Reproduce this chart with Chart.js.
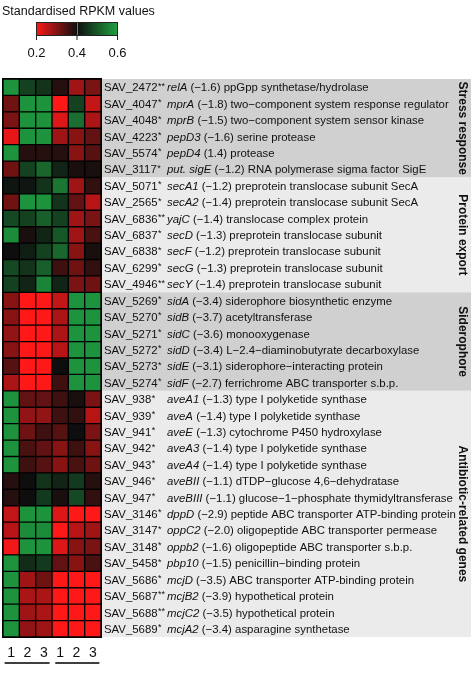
<!DOCTYPE html>
<html>
<head>
<meta charset="utf-8">
<script src="https://cdn.jsdelivr.net/npm/chart.js@4/dist/chart.umd.min.js"></script>
<style>
  html, body { margin: 0; padding: 0; background: #fff; }
  #wrap { width: 475px; height: 673px; position: relative; }
</style>
</head>
<body>
<div id="wrap"><canvas id="heat" width="475" height="673"></canvas></div>
<script>
// gene rows, top to bottom
const geneIds = ["SAV_2472**", "SAV_4047*", "SAV_4048*", "SAV_4223*", "SAV_5574*", "SAV_3117*",
  "SAV_5071*", "SAV_2565*", "SAV_6836**", "SAV_6837*", "SAV_6838*", "SAV_6299*", "SAV_4946**",
  "SAV_5269*", "SAV_5270*", "SAV_5271*", "SAV_5272*", "SAV_5273*", "SAV_5274*",
  "SAV_938*", "SAV_939*", "SAV_941*", "SAV_942*", "SAV_943*", "SAV_946*", "SAV_947*",
  "SAV_3146*", "SAV_3147*", "SAV_3148*", "SAV_5458*", "SAV_5686*", "SAV_5687**", "SAV_5688**", "SAV_5689*"];
const geneNames = ["relA", "mprA", "mprB", "pepD3", "pepD4", "put. sigE",
  "secA1", "secA2", "yajC", "secD", "secF", "secG", "secY",
  "sidA", "sidB", "sidC", "sidD", "sidE", "sidF",
  "aveA1", "aveA", "aveE", "aveA3", "aveA4", "aveBII", "aveBIII",
  "dppD", "oppC2", "oppb2", "pbp10", "mcjD", "mcjB2", "mcjC2", "mcjA2"];
const foldChanges = ["−1.6", "−1.8", "−1.5", "−1.6", "1.4", "−1.2",
  "−1.2", "−1.4", "−1.4", "−1.3", "−1.2", "−1.3", "−1.4",
  "−3.4", "−3.7", "−3.6", "−3.4", "−3.1", "−2.7",
  "−1.3", "−1.4", "−1.3", "−1.4", "−1.4", "−1.1", "−1.1",
  "−2.9", "−2.0", "−1.6", "−1.5", "−3.5", "−3.9", "−3.5", "−3.4"];
const descriptions = ["ppGpp synthetase/hydrolase", "two−component system response regulator",
  "two−component system sensor kinase", "serine protease", "protease", "RNA polymerase sigma factor SigE",
  "preprotein translocase subunit SecA", "preprotein translocase subunit SecA", "translocase complex protein",
  "preprotein translocase subunit", "preprotein translocase subunit", "preprotein translocase subunit",
  "preprotein translocase subunit",
  "siderophore biosynthetic enzyme", "acetyltransferase", "monooxygenase",
  "L−2.4−diaminobutyrate decarboxylase", "siderophore−interacting protein", "ferrichrome ABC transporter s.b.p.",
  "type I polyketide synthase", "type I polyketide synthase", "cytochrome P450 hydroxylase",
  "type I polyketide synthase", "type I polyketide synthase", "dTDP−glucose 4,6−dehydratase",
  "glucose−1−phosphate thymidyltransferase",
  "peptide ABC transporter ATP-binding protein", "oligopeptide ABC transporter permease",
  "oligopeptide ABC transporter s.b.p.", "penicillin−binding protein", "ABC transporter ATP-binding protein",
  "hypothetical protein", "hypothetical protein", "asparagine synthetase"];

// standardised RPKM, one row per gene, columns 1 2 3 | 1 2 3
const rpkm = [
  [0.58, 0.47, 0.45, 0.38, 0.28, 0.31],
  [0.32, 0.58, 0.58, 0.20, 0.47, 0.25],
  [0.31, 0.58, 0.58, 0.23, 0.53, 0.27],
  [0.22, 0.58, 0.58, 0.28, 0.30, 0.33],
  [0.58, 0.38, 0.38, 0.38, 0.30, 0.34],
  [0.32, 0.47, 0.52, 0.43, 0.39, 0.39],
  [0.41, 0.41, 0.45, 0.54, 0.28, 0.37],
  [0.32, 0.58, 0.58, 0.45, 0.33, 0.26],
  [0.48, 0.47, 0.51, 0.47, 0.28, 0.31],
  [0.57, 0.39, 0.43, 0.50, 0.28, 0.35],
  [0.40, 0.42, 0.47, 0.52, 0.30, 0.39],
  [0.48, 0.45, 0.51, 0.36, 0.32, 0.37],
  [0.47, 0.43, 0.56, 0.43, 0.31, 0.32],
  [0.30, 0.20, 0.20, 0.25, 0.58, 0.58],
  [0.30, 0.20, 0.20, 0.27, 0.58, 0.58],
  [0.29, 0.20, 0.20, 0.27, 0.58, 0.58],
  [0.30, 0.20, 0.20, 0.26, 0.58, 0.58],
  [0.34, 0.20, 0.20, 0.40, 0.58, 0.58],
  [0.27, 0.20, 0.20, 0.36, 0.58, 0.58],
  [0.58, 0.33, 0.33, 0.36, 0.39, 0.31],
  [0.58, 0.29, 0.29, 0.36, 0.37, 0.26],
  [0.58, 0.32, 0.36, 0.34, 0.40, 0.31],
  [0.58, 0.35, 0.33, 0.30, 0.36, 0.30],
  [0.58, 0.36, 0.34, 0.30, 0.35, 0.32],
  [0.38, 0.40, 0.45, 0.43, 0.46, 0.38],
  [0.38, 0.40, 0.46, 0.39, 0.48, 0.37],
  [0.25, 0.58, 0.58, 0.23, 0.20, 0.20],
  [0.26, 0.57, 0.57, 0.20, 0.26, 0.28],
  [0.21, 0.58, 0.58, 0.23, 0.30, 0.31],
  [0.58, 0.44, 0.46, 0.33, 0.30, 0.35],
  [0.58, 0.28, 0.32, 0.20, 0.20, 0.20],
  [0.58, 0.27, 0.27, 0.20, 0.20, 0.20],
  [0.58, 0.28, 0.27, 0.20, 0.20, 0.20],
  [0.58, 0.29, 0.28, 0.20, 0.20, 0.20]
];
const columnLabels = ["1", "2", "3", "1", "2", "3"];
const groupNames = ["Stress response", "Protein export", "Siderophore", "Antibiotic-related genes"];
const groupSizes = [6, 7, 6, 15];
const scaleTicks = [0.2, 0.4, 0.6];

const RED = [255, 24, 24], BLACK = [14, 14, 14], GREEN = [32, 162, 66];

function colorFor(v) {
  let t, c;
  if (v < 0.4) { t = Math.min(1, (0.4 - v) / 0.2); c = RED; }
  else { t = Math.min(1, (v - 0.4) / 0.2); c = GREEN; }
  const r = Math.round(BLACK[0] + (c[0] - BLACK[0]) * t);
  const g = Math.round(BLACK[1] + (c[1] - BLACK[1]) * t);
  const b = Math.round(BLACK[2] + (c[2] - BLACK[2]) * t);
  return `rgb(${r},${g},${b})`;
}

const datasets = columnLabels.map((lab, j) => ({
  label: "col " + (j + 1),
  data: rpkm.map(() => [j, j + 1]),
  backgroundColor: rpkm.map(row => colorFor(row[j])),
  borderColor: "#000",
  borderWidth: 1,
  borderSkipped: false,
  grouped: false,
  barPercentage: 1,
  categoryPercentage: 1
}));

const FONT = "'Liberation Sans', Arial, sans-serif";
const TXT = "11.4px ";

const decorPlugin = {
  id: "decor",
  beforeDatasetsDraw(chart) {
    const { ctx, chartArea } = chart;
    ctx.save();
    ctx.fillStyle = "#000";
    ctx.fillRect(chartArea.left - 1, chartArea.top - 1, chartArea.right - chartArea.left + 2, chartArea.bottom - chartArea.top + 2);
    ctx.restore();
  },
  afterDraw(chart) {
    const { ctx, chartArea } = chart;
    const ys = chart.scales.y, xs = chart.scales.x;
    const band = ys.getPixelForValue(1) - ys.getPixelForValue(0);
    const rowTop = i => ys.getPixelForValue(i) - band / 2;
    ctx.save();

    // side panels with group names
    const panelL = chartArea.right + 1, panelR = 471;
    let start = 0;
    groupSizes.forEach((n, g) => {
      const y0 = rowTop(start), y1 = rowTop(start + n);
      ctx.fillStyle = g % 2 === 0 ? "#d0d0d0" : "#ebebeb";
      ctx.fillRect(panelL, y0, panelR - panelL, y1 - y0);
      ctx.save();
      ctx.translate(462, (y0 + y1) / 2);
      ctx.rotate(Math.PI / 2);
      ctx.fillStyle = "#111";
      ctx.font = "bold 12px " + FONT;
      ctx.textAlign = "center";
      ctx.textBaseline = "middle";
      ctx.fillText(groupNames[g], 0, 0);
      ctx.restore();
      start += n;
    });

    // gene text: id, small stars, italic gene, fold change + description
    ctx.fillStyle = "#111";
    ctx.textBaseline = "middle";
    ctx.textAlign = "left";
    geneIds.forEach((id, i) => {
      const y = ys.getPixelForValue(i) + 1;
      const base = id.replace(/\*+$/, "");
      const stars = id.slice(base.length);
      ctx.font = TXT + FONT;
      ctx.fillText(base, 104, y);
      const bw = ctx.measureText(base).width;
      ctx.font = "9px " + FONT;
      ctx.fillText(stars, 104 + bw + 0.5, y - 2);
      ctx.font = "italic " + TXT + FONT;
      ctx.fillText(geneNames[i], 167, y);
      const w = ctx.measureText(geneNames[i]).width;
      ctx.font = TXT + FONT;
      ctx.fillText(" (" + foldChanges[i] + ") " + descriptions[i], 167 + w, y);
    });

    // column labels and condition lines
    ctx.font = "14px " + FONT;
    ctx.textAlign = "center";
    ctx.textBaseline = "alphabetic";
    columnLabels.forEach((lab, j) => {
      ctx.fillText(lab, xs.getPixelForValue(j + 0.5), 657);
    });
    ctx.strokeStyle = "#000";
    ctx.lineWidth = 1.3;
    ctx.beginPath();
    ctx.moveTo(xs.getPixelForValue(0.1), 663); ctx.lineTo(xs.getPixelForValue(2.85), 663);
    ctx.moveTo(xs.getPixelForValue(3.2), 663); ctx.lineTo(xs.getPixelForValue(5.9), 663);
    ctx.stroke();

    // colour key
    const kx0 = 36, kx1 = 118, ky0 = 22, ky1 = 36;
    const grad = ctx.createLinearGradient(kx0, 0, kx1, 0);
    grad.addColorStop(0, colorFor(0.2));
    grad.addColorStop(0.5, colorFor(0.4));
    grad.addColorStop(1, colorFor(0.6));
    ctx.fillStyle = grad;
    ctx.fillRect(kx0, ky0, kx1 - kx0, ky1 - ky0);
    ctx.strokeStyle = "#222";
    ctx.lineWidth = 1;
    ctx.strokeRect(kx0 + 0.5, ky0 + 0.5, kx1 - kx0 - 1, ky1 - ky0 - 1);
    ctx.fillStyle = "#111";
    ctx.font = "13px " + FONT;
    scaleTicks.forEach(t => {
      const x = kx0 + (t - 0.2) / 0.4 * (kx1 - kx0 - 1) + 0.5;
      ctx.beginPath();
      ctx.moveTo(x, ky1 - 1); ctx.lineTo(x, ky1 + 4);
      ctx.stroke();
      ctx.fillText(t.toFixed(1), x, 57);
    });
    ctx.strokeStyle = "#777";
    ctx.beginPath();
    ctx.moveTo(77.5, ky0 + 1); ctx.lineTo(77.5, ky1 - 1);
    ctx.stroke();
    ctx.textAlign = "left";
    ctx.font = "12.5px " + FONT;
    ctx.fillStyle = "#111";
    ctx.fillText("Standardised RPKM values", 2, 15);

    ctx.restore();
  }
};

new Chart(document.getElementById("heat"), {
  type: "bar",
  data: { labels: geneIds, datasets: datasets },
  options: {
    indexAxis: "y",
    responsive: false,
    animation: false,
    layout: { padding: { left: 3, right: 374, top: 79, bottom: 36 } },
    plugins: { legend: { display: false }, tooltip: { enabled: false }, title: { display: false } },
    scales: {
      x: { type: "linear", min: 0, max: 6, display: false },
      y: { type: "category", display: false, offset: true }
    }
  },
  plugins: [decorPlugin]
});
</script>
</body>
</html>
